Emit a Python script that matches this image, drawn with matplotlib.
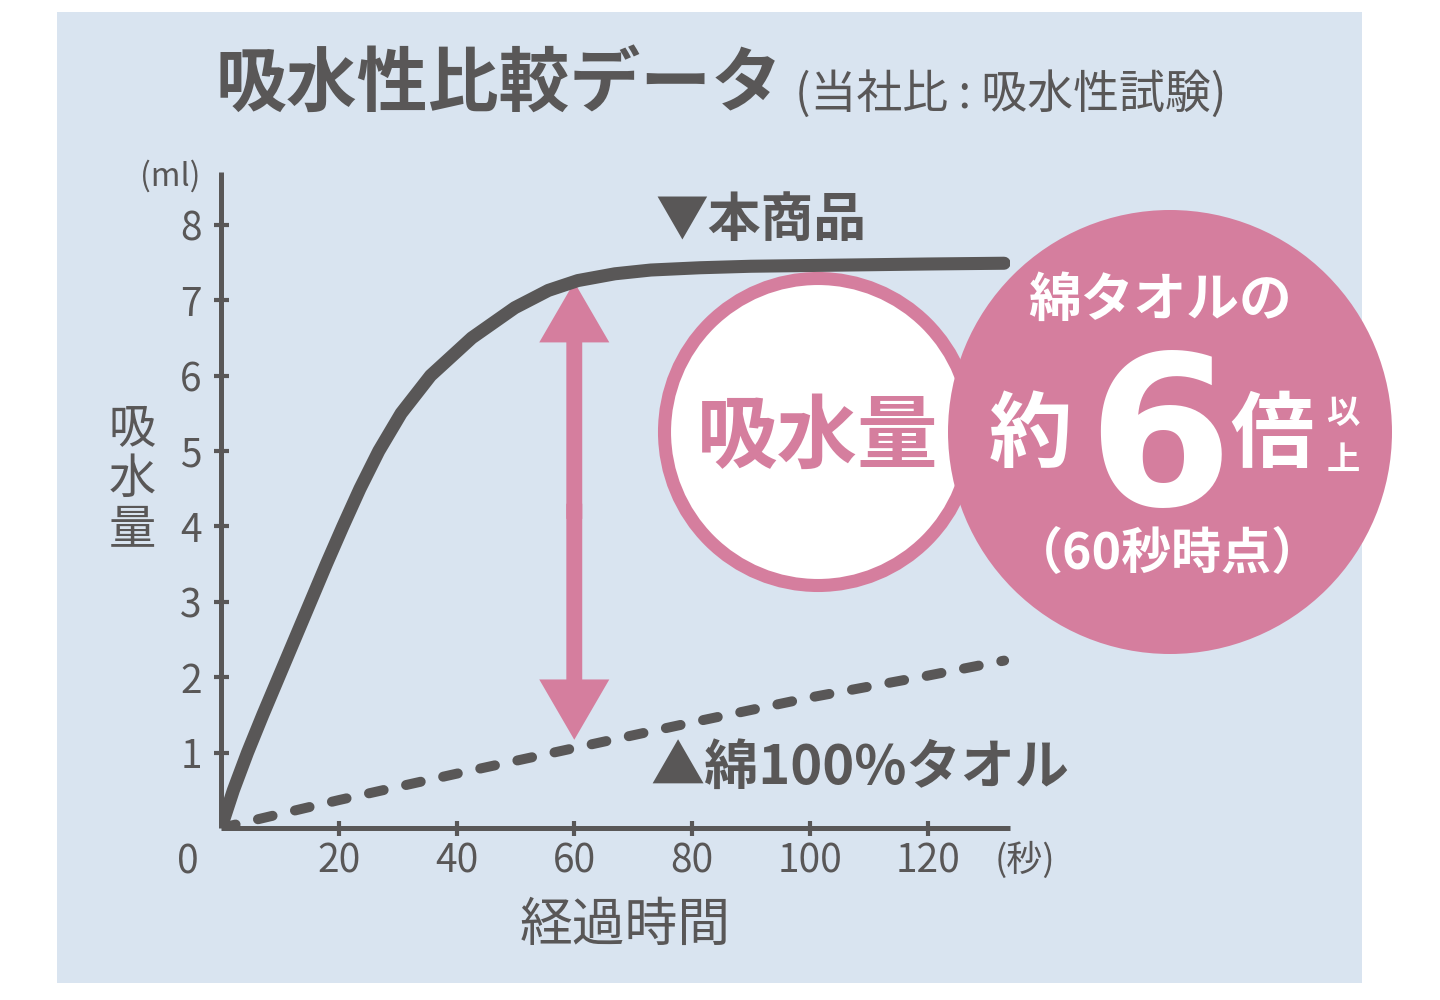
import matplotlib
matplotlib.use("Agg")
import matplotlib.pyplot as plt
from matplotlib.patches import Rectangle, Circle

plt.rcParams['font.family'] = ['Noto Sans CJK JP', 'DejaVu Sans']

GRAY = '#595757'
PINK = '#d57e9e'
PANEL = '#d9e4f0'

# 本商品 (sec, ml)
product_t = [0, 2.1, 4.5, 7.1, 9.8, 12.5, 15.2, 17.9, 20.7, 23.6, 26.8, 30.6, 35.6,
             42.6, 49.9, 55.6, 60.6, 66.9, 73, 81.3, 90, 100, 120, 133]
product_v = [0, 0.5, 1.0, 1.5, 2.0, 2.5, 3.0, 3.5, 4.0, 4.5, 5.0, 5.5, 6.0,
             6.5, 6.9, 7.13, 7.26, 7.35, 7.40, 7.43, 7.45, 7.46, 7.48, 7.49]

# 綿100%タオル
cotton_t = [0, 20, 40, 60, 80, 100, 120, 133]
cotton_v = [0, 0.37, 0.72, 1.06, 1.40, 1.73, 2.02, 2.22]

x_ticks = [20, 40, 60, 80, 100, 120]
y_ticks = [1, 2, 3, 4, 5, 6, 7, 8]

W, H = 1440, 1000
fig = plt.figure(figsize=(W / 100, H / 100), dpi=100)
fig.patch.set_facecolor('white')


def fx(px):
    return px / W


def fy(py):
    return 1 - py / H


# light blue panel
fig.patches.append(Rectangle((fx(57), fy(983)), (1362 - 57) / W, (983 - 12) / H,
                             transform=fig.transFigure, facecolor=PANEL, edgecolor='none', zorder=-1))

ax = fig.add_axes([fx(221), fy(828), (1010 - 221) / W, (828 - 172) / H])
ax.set_facecolor('none')
ax.set_xlim(0, 134)
ax.set_ylim(0, 8.7)
for s in ['top', 'right']:
    ax.spines[s].set_visible(False)
for s in ['left', 'bottom']:
    ax.spines[s].set_color(GRAY)
    ax.spines[s].set_linewidth(3.6)
    ax.spines[s].set_capstyle('butt')

ax.set_xticks(x_ticks)
ax.set_yticks(y_ticks)
ax.tick_params(axis='both', direction='inout', length=10.8, width=3.0, color=GRAY,
               labelcolor=GRAY, labelsize=28)
ax.tick_params(axis='y', pad=8.5)
ax.tick_params(axis='x', pad=4.5)

ax.plot(product_t, product_v, color=GRAY, lw=9.4, solid_capstyle='round',
        solid_joinstyle='round', zorder=3)
ax.plot(cotton_t, cotton_v, color=GRAY, lw=7.2, dashes=(1.5, 2.3),
        dash_capstyle='round', zorder=3)

# double arrow at 60 sec
mid = 4.2
ax.arrow(60, mid - 0.1, 0, 7.24 - mid + 0.1, width=2.7, head_width=11.9, head_length=0.8,
         length_includes_head=True, color=PINK, lw=0, zorder=2)
ax.arrow(60, mid + 0.1, 0, 1.17 - mid - 0.1, width=2.7, head_width=11.9, head_length=0.8,
         length_includes_head=True, color=PINK, lw=0, zorder=2)

# texts
fig.text(fx(215), fy(85), '吸水性比較データ', fontsize=51, fontweight='bold',
         color=GRAY, ha='left', va='center')
fig.text(fx(795), fy(95), '(当社比 : 吸水性試験)', fontsize=33,
         color=GRAY, ha='left', va='center')
fig.text(fx(170), fy(176), '(ml)', fontsize=23, color=GRAY, ha='center', va='center')
fig.text(fx(132), fy(480), '吸\n水\n量', fontsize=34, color=GRAY, ha='center',
         va='center', linespacing=1.05)
fig.text(fx(188), fy(862), '0', fontsize=28, color=GRAY, ha='center', va='center')
fig.text(fx(1025), fy(860), '(秒)', fontsize=26, color=GRAY, ha='center', va='center')
fig.text(fx(625), fy(925), '経過時間', fontsize=38, color=GRAY, ha='center', va='center')
fig.text(fx(655), fy(220), '▼本商品', fontsize=38, fontweight='bold', color=GRAY,
         ha='left', va='center')
fig.text(fx(650), fy(768), '▲綿100%タオル', fontsize=39, fontweight='bold', color=GRAY,
         ha='left', va='center')

# circles (inches from bottom-left)
tr = fig.dpi_scale_trans
fig.patches.append(Circle((818 / 100, (H - 432) / 100), 1.535, transform=tr,
                          facecolor='white', edgecolor=PINK, lw=9.4, zorder=5))
fig.patches.append(Circle((1170 / 100, (H - 432) / 100), 2.22, transform=tr,
                          facecolor=PINK, edgecolor='none', zorder=6))

fig.text(fx(818), fy(438), '吸水量', fontsize=58, fontweight='bold', color=PINK,
         ha='center', va='center', zorder=7)
fig.text(fx(1160), fy(300), '綿タオルの', fontsize=38, fontweight='bold', color='white',
         ha='center', va='center', zorder=7)
fig.text(fx(1030), fy(437), '約', fontsize=60, fontweight='bold', color='white',
         ha='center', va='center', zorder=7)
fig.text(fx(1160), fy(505), '6', fontsize=150, fontweight='bold', color='white',
         family='DejaVu Sans', ha='center', va='baseline', zorder=7)
fig.text(fx(1272), fy(437), '倍', fontsize=60, fontweight='bold', color='white',
         ha='center', va='center', zorder=7)
fig.text(fx(1343), fy(413), '以', fontsize=24, fontweight='bold', color='white',
         ha='center', va='center', zorder=7)
fig.text(fx(1343), fy(460), '上', fontsize=24, fontweight='bold', color='white',
         ha='center', va='center', zorder=7)
fig.text(fx(1167), fy(555), '（60秒時点）', fontsize=36, fontweight='bold', color='white',
         ha='center', va='center', zorder=7)

fig.savefig('out.png', dpi=100)
